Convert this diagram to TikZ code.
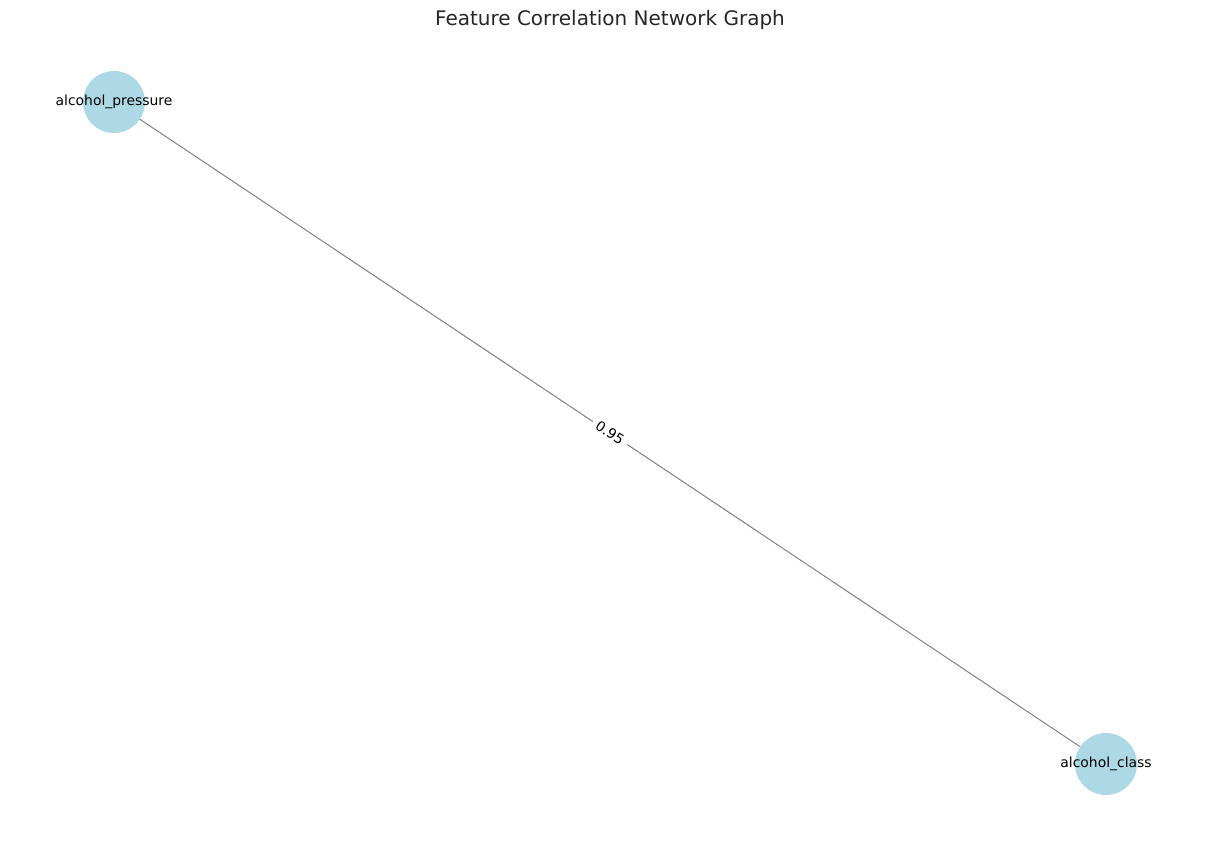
\documentclass[tikz,border=0pt]{standalone}
\usepackage{fontspec}
\setmainfont{DejaVu Sans}
\usetikzlibrary{calc}
\definecolor{nodeblue}{HTML}{ADD8E6}
\definecolor{edgegray}{HTML}{808080}
\definecolor{titlecol}{HTML}{262626}
\begin{document}
\begin{tikzpicture}[x=1pt,y=-1pt,
  featnode/.style={circle,fill=nodeblue,draw=none,minimum size=62pt,inner sep=0pt},
  featlabel/.style={font=\fontsize{13.9}{16}\selectfont,text=black,inner sep=0pt},
  corredge/.style={draw=edgegray,line width=1pt},
  edgelabel/.style={font=\fontsize{13.9}{16}\selectfont,fill=white,rounded corners=3pt,inner xsep=5pt,inner ysep=4pt,text=black}]
\useasboundingbox (0,0) rectangle (1220,843);
\node[font=\fontsize{20}{24}\selectfont,text=titlecol] (title) at (610,19.5) {Feature Correlation Network Graph};
\node[featnode] (p) at (114,102) {};
\node[featnode] (c) at (1106,764) {};
\draw[corredge] (p) -- (c);
\node[edgelabel,rotate=-33.7] (w) at ($(p)!0.5!(c)$) {0.95};
\node[featlabel] (pl) at (p) {alcohol\_pressure};
\node[featlabel] (cl) at (c) {alcohol\_class};
\end{tikzpicture}
\end{document}
